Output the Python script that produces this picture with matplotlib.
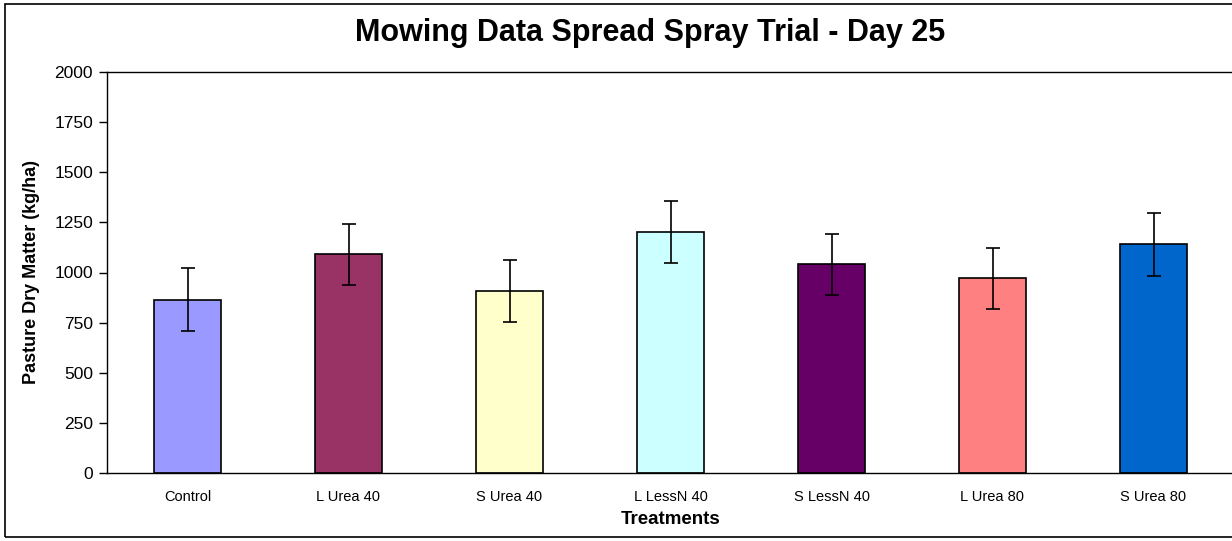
import matplotlib
matplotlib.use("Agg")
import matplotlib.pyplot as plt
from matplotlib.patches import Rectangle
import numpy as np

plt.rcParams['font.family'] = ['Liberation Sans', 'DejaVu Sans']

treatments = ["Control", "L Urea 40", "S Urea 40", "L LessN 40", "S LessN 40", "L Urea 80", "S Urea 80"]
dry_matter = [865, 1092, 908, 1202, 1040, 972, 1140]
errors = [155, 152, 153, 156, 152, 152, 156]
colors = ["#9999FF", "#993366", "#FFFFCC", "#CCFFFF", "#660066", "#FF8080", "#0066CC"]

W, H = 1232, 541
fig = plt.figure(figsize=(W / 100, H / 100), dpi=100)

# outer chart border (right side runs off the image like the original)
fig.patches.append(Rectangle((5 / W, 4 / H), 1.0, (537 - 4) / H, transform=fig.transFigure,
                             fill=False, edgecolor="black", linewidth=1.2, clip_on=False))

left, right, top, bottom = 107, 1234, 72, 473
ax = fig.add_axes([left / W, 1 - bottom / H, (right - left) / W, (bottom - top) / H])

x = np.arange(len(treatments))
ax.bar(x, dry_matter, width=0.41, color=colors, edgecolor="black", linewidth=1.2, zorder=2)
ax.errorbar(x, dry_matter, yerr=errors, fmt="none", ecolor="black", elinewidth=1.2,
            capsize=5, capthick=1.2, zorder=3)

ax.set_xlim(-0.5, len(treatments) - 0.5)
ax.set_ylim(0, 2000)
ax.set_yticks(np.arange(0, 2001, 250))
ax.tick_params(axis="y", direction="out", length=6, width=1, labelsize=12.5, pad=4)
ax.set_xticks(x)
ax.set_xticklabels(treatments)
ax.tick_params(axis="x", length=0, labelsize=10.5, pad=12)

for s in ["left", "bottom", "top"]:
    ax.spines[s].set_linewidth(1.0)
ax.spines["right"].set_visible(False)

ax.set_ylabel("Pasture Dry Matter (kg/ha)", fontsize=13, fontweight="bold", labelpad=10)
ax.set_xlabel("Treatments", fontsize=13.5, fontweight="bold", labelpad=5)

fig.text(650 / W, 1 - 33 / H, "Mowing Data Spread Spray Trial - Day 25", fontsize=22,
         fontweight="bold", ha="center", va="center")

fig.savefig("out.png", dpi=100)
